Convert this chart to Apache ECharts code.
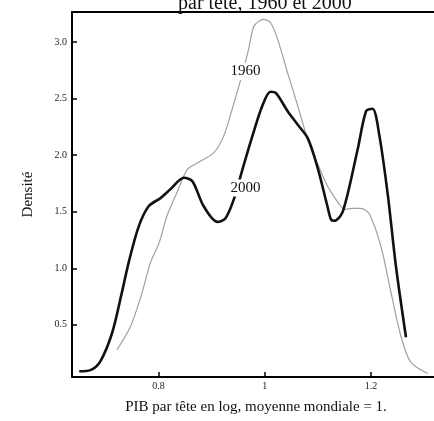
<!DOCTYPE html>
<html>
<head>
<meta charset="utf-8">
<script src="https://cdn.jsdelivr.net/npm/echarts@6/dist/echarts.min.js"></script>
<style>html,body{margin:0;padding:0;background:#fff}#c{width:434px;height:421px}</style>
</head>
<body>
<div id="c"></div>
<script>
// Data
const x2000 = [0.651, 0.672, 0.691, 0.713, 0.731, 0.744, 0.763, 0.782, 0.804, 0.823, 0.848, 0.864, 0.885, 0.911, 0.926, 0.942, 0.958, 0.977, 0.996, 1.011, 1.021, 1.043, 1.062, 1.081, 1.099, 1.118, 1.125, 1.131, 1.147, 1.175, 1.191, 1.203, 1.216, 1.232, 1.247, 1.266];
const y2000 = [0.09, 0.10, 0.18, 0.43, 0.78, 1.05, 1.37, 1.55, 1.62, 1.70, 1.80, 1.77, 1.55, 1.41, 1.44, 1.61, 1.87, 2.17, 2.44, 2.56, 2.55, 2.39, 2.27, 2.15, 1.90, 1.55, 1.43, 1.42, 1.50, 2.05, 2.39, 2.41, 2.17, 1.64, 1.02, 0.39];
const x1960 = [0.722, 0.747, 0.769, 0.785, 0.801, 0.816, 0.835, 0.854, 0.873, 0.904, 0.923, 0.939, 0.955, 0.970, 0.980, 0.998, 1.011, 1.024, 1.043, 1.062, 1.081, 1.099, 1.118, 1.140, 1.150, 1.165, 1.181, 1.197, 1.219, 1.238, 1.257, 1.275, 1.307];
const y1960 = [0.28, 0.48, 0.78, 1.05, 1.22, 1.46, 1.67, 1.87, 1.93, 2.02, 2.17, 2.41, 2.67, 2.94, 3.14, 3.20, 3.17, 3.03, 2.73, 2.44, 2.14, 1.93, 1.73, 1.57, 1.52, 1.53, 1.53, 1.48, 1.19, 0.78, 0.39, 0.17, 0.07];
const xTicks = [0.8, 1, 1.2];
const xTickLabels = ['0.8', '1', '1.2'];
const yTicks = [0.5, 1.0, 1.5, 2.0, 2.5, 3.0];
const yTickLabels = ['0.5', '1.0', '1.5', '2.0', '2.5', '3.0'];
const seriesNames = ['1960', '2000'];
const labelPos1960 = [0.964, 2.74];
const labelPos2000 = [0.964, 1.71];
const titleText = 'par tête, 1960 et 2000';
const xName = 'PIB par tête en log, moyenne mondiale = 1.';
const yName = 'Densité';

const serif = '"Liberation Serif", "DejaVu Serif", serif';
const zip = (a, b) => a.map((v, i) => [v, b[i]]);

const chart = echarts.init(document.getElementById('c'), null, {renderer: 'canvas'});
chart.setOption({
  animation: false,
  backgroundColor: '#fff',
  title: {
    text: titleText, left: 173, top: -11,
    textStyle: {fontFamily: serif, fontSize: 20, fontWeight: 'normal', color: '#111'}
  },
  grid: {left: 72, right: -6, top: 12, bottom: 44, containLabel: false, outerBoundsMode: 'none'},
  xAxis: [{
    type: 'value', min: 0.6374, max: 1.330,
    name: xName, nameLocation: 'middle', nameGap: 23,
    nameTextStyle: {fontFamily: serif, fontSize: 15, color: '#111'},
    axisLine: {show: true, onZero: false, lineStyle: {color: '#000', width: 2}},
    axisTick: {show: true, inside: true, length: 5, lineStyle: {color: '#000', width: 1.5}, customValues: xTicks},
    axisLabel: {fontFamily: serif, fontSize: 10, color: '#222', margin: 4, customValues: xTicks,
      formatter: v => { const i = xTicks.findIndex(t => Math.abs(t - v) < 1e-6); return i >= 0 ? xTickLabels[i] : ''; }},
    splitLine: {show: false}
  }, {
    type: 'value', position: 'top', min: 0.6374, max: 1.330,
    axisLine: {show: true, onZero: false, lineStyle: {color: '#000', width: 2}},
    axisTick: {show: false}, axisLabel: {show: false}, splitLine: {show: false}
  }],
  yAxis: {
    type: 'value', min: 0.039, max: 3.265,
    name: yName, nameLocation: 'middle', nameGap: 36, nameRotate: 90,
    nameTextStyle: {fontFamily: serif, fontSize: 15, color: '#111'},
    axisLine: {show: true, onZero: false, lineStyle: {color: '#000', width: 2}},
    axisTick: {show: true, inside: true, length: 5, lineStyle: {color: '#000', width: 1.5}, customValues: yTicks},
    axisLabel: {fontFamily: serif, fontSize: 10, color: '#222', margin: 5, customValues: yTicks,
      formatter: v => { const i = yTicks.findIndex(t => Math.abs(t - v) < 1e-6); return i >= 0 ? yTickLabels[i] : ''; }},
    splitLine: {show: false}
  },
  series: [
    {
      name: seriesNames[0], type: 'line', data: zip(x1960, y1960), showSymbol: false, smooth: 0.3,
      lineStyle: {color: '#a0a0a0', width: 1.2}, z: 2,
      markPoint: {
        symbol: 'rect', symbolSize: 0, silent: true,
        label: {show: true, position: 'inside', formatter: seriesNames[0], fontFamily: serif, fontSize: 15, color: '#111', backgroundColor: '#fff', padding: [1, 2]},
        data: [{coord: labelPos1960}]
      }
    },
    {
      name: seriesNames[1], type: 'line', data: zip(x2000, y2000), showSymbol: false, smooth: 0.3,
      lineStyle: {color: '#111', width: 2.6}, z: 3,
      markPoint: {
        symbol: 'rect', symbolSize: 0, silent: true,
        label: {show: true, position: 'inside', formatter: seriesNames[1], fontFamily: serif, fontSize: 15, color: '#111', backgroundColor: '#fff', padding: [1, 2]},
        data: [{coord: labelPos2000}]
      }
    }
  ]
});
</script>
</body>
</html>
